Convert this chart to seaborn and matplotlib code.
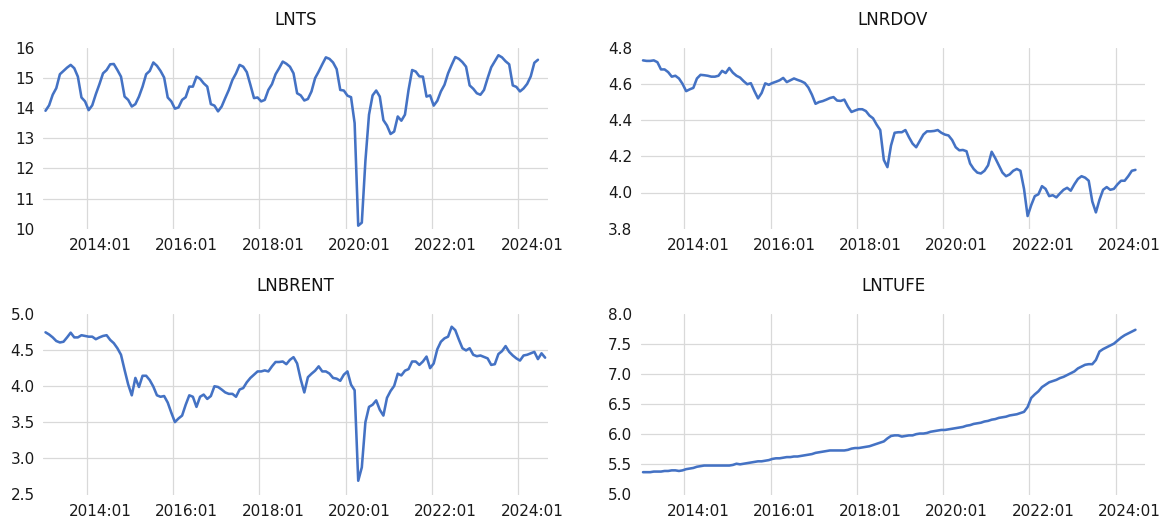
import numpy as np
import pandas as pd
import matplotlib
matplotlib.use("Agg")
import matplotlib.pyplot as plt
import seaborn as sns

# Monthly log series, starting 2013:01
lnts = [
    13.91, 14.09, 14.44, 14.66, 15.12, 15.23, 15.34, 15.43, 15.32, 15.04, 14.35, 14.22,
    13.93, 14.09, 14.46, 14.79, 15.15, 15.26, 15.45, 15.46, 15.26, 15.04, 14.38, 14.27,
    14.05, 14.13, 14.38, 14.71, 15.12, 15.23, 15.51, 15.40, 15.23, 15.01, 14.35, 14.22,
    13.98, 14.02, 14.27, 14.36, 14.71, 14.71, 15.04, 14.97, 14.82, 14.71, 14.13, 14.08,
    13.89, 14.05, 14.33, 14.60, 14.93, 15.15, 15.43, 15.37, 15.19, 14.77, 14.33, 14.35,
    14.22, 14.27, 14.60, 14.79, 15.12, 15.32, 15.54, 15.47, 15.37, 15.15, 14.49, 14.42,
    14.25, 14.30, 14.55, 14.99, 15.21, 15.45, 15.68, 15.63, 15.51, 15.29, 14.60, 14.58,
    14.41, 14.36, 13.50, 10.10, 10.20, 12.25, 13.78, 14.42, 14.58, 14.38, 13.60, 13.42,
    13.14, 13.22, 13.72, 13.58, 13.78, 14.60, 15.26, 15.21, 15.05, 15.04, 14.38, 14.42,
    14.08, 14.24, 14.55, 14.77, 15.15, 15.43, 15.69, 15.63, 15.52, 15.37, 14.75, 14.64,
    14.49, 14.44, 14.60, 14.99, 15.35, 15.55, 15.75, 15.68, 15.55, 15.45, 14.75, 14.70,
    14.55, 14.65, 14.80, 15.05, 15.50, 15.60,
]

lnrdov = [
    4.730, 4.727, 4.727, 4.730, 4.720, 4.680, 4.680, 4.665, 4.640, 4.645, 4.630, 4.600,
    4.560, 4.570, 4.578, 4.630, 4.650, 4.648, 4.645, 4.640, 4.640, 4.645, 4.672, 4.660,
    4.688, 4.662, 4.645, 4.635, 4.615, 4.598, 4.604, 4.560, 4.520, 4.550, 4.603, 4.595,
    4.605, 4.612, 4.620, 4.633, 4.610, 4.620, 4.630, 4.622, 4.615, 4.605, 4.580, 4.540,
    4.490, 4.500, 4.505, 4.513, 4.522, 4.527, 4.508, 4.506, 4.513, 4.475, 4.445, 4.453,
    4.460, 4.460, 4.450, 4.425, 4.410, 4.375, 4.345, 4.180, 4.140, 4.260, 4.330, 4.333,
    4.333, 4.345, 4.305, 4.270, 4.250, 4.285, 4.320, 4.338, 4.338, 4.340, 4.345, 4.330,
    4.320, 4.315, 4.290, 4.250, 4.233, 4.235, 4.228, 4.160, 4.130, 4.110, 4.105, 4.120,
    4.150, 4.225, 4.190, 4.150, 4.110, 4.090, 4.100, 4.120, 4.130, 4.120, 4.020, 3.870,
    3.930, 3.980, 3.990, 4.035, 4.020, 3.980, 3.985, 3.973, 3.995, 4.015, 4.026, 4.010,
    4.045, 4.075, 4.090, 4.082, 4.065, 3.950, 3.890, 3.960, 4.015, 4.030, 4.015, 4.020,
    4.045, 4.065, 4.065, 4.090, 4.120, 4.125,
]

lnbrent = [
    4.740, 4.710, 4.670, 4.620, 4.600, 4.610, 4.670, 4.735, 4.670, 4.670, 4.700, 4.690,
    4.680, 4.680, 4.645, 4.670, 4.690, 4.700, 4.635, 4.590, 4.520, 4.430, 4.220, 4.020,
    3.870, 4.110, 3.985, 4.140, 4.140, 4.080, 3.990, 3.870, 3.850, 3.860, 3.770, 3.630,
    3.500, 3.550, 3.590, 3.740, 3.870, 3.850, 3.710, 3.850, 3.880, 3.820, 3.860, 3.995,
    3.985, 3.950, 3.910, 3.890, 3.890, 3.850, 3.950, 3.970, 4.050, 4.110, 4.155, 4.200,
    4.200, 4.214, 4.200, 4.270, 4.330, 4.330, 4.337, 4.300, 4.360, 4.397, 4.310, 4.090,
    3.910, 4.120, 4.168, 4.210, 4.270, 4.200, 4.200, 4.170, 4.110, 4.100, 4.070, 4.155,
    4.200, 4.017, 3.940, 2.690, 2.875, 3.500, 3.710, 3.740, 3.800, 3.670, 3.590, 3.835,
    3.930, 4.000, 4.168, 4.145, 4.210, 4.232, 4.337, 4.337, 4.290, 4.337, 4.405, 4.245,
    4.310, 4.506, 4.610, 4.657, 4.680, 4.817, 4.770, 4.640, 4.520, 4.490, 4.520, 4.430,
    4.410, 4.420, 4.400, 4.380, 4.290, 4.300, 4.440, 4.480, 4.550, 4.470, 4.420, 4.380,
    4.350, 4.420, 4.430, 4.450, 4.470, 4.370, 4.450, 4.390,
]

lntufe = [
    5.37, 5.37, 5.37, 5.38, 5.38, 5.38, 5.39, 5.39, 5.40, 5.40, 5.39, 5.40,
    5.42, 5.43, 5.44, 5.46, 5.47, 5.48, 5.48, 5.48, 5.48, 5.48, 5.48, 5.48,
    5.48, 5.49, 5.51, 5.50, 5.51, 5.52, 5.53, 5.54, 5.55, 5.55, 5.56, 5.57,
    5.59, 5.60, 5.60, 5.61, 5.62, 5.62, 5.63, 5.63, 5.64, 5.65, 5.66, 5.67,
    5.69, 5.70, 5.71, 5.72, 5.73, 5.73, 5.73, 5.73, 5.73, 5.74, 5.76, 5.77,
    5.77, 5.78, 5.79, 5.80, 5.82, 5.84, 5.86, 5.88, 5.93, 5.97, 5.98, 5.98,
    5.96, 5.97, 5.98, 5.98, 6.00, 6.01, 6.01, 6.02, 6.04, 6.05, 6.06, 6.07,
    6.07, 6.08, 6.09, 6.10, 6.11, 6.12, 6.14, 6.15, 6.17, 6.18, 6.19, 6.21,
    6.22, 6.24, 6.25, 6.27, 6.28, 6.29, 6.31, 6.32, 6.33, 6.35, 6.37, 6.45,
    6.60, 6.66, 6.71, 6.78, 6.82, 6.86, 6.88, 6.90, 6.93, 6.95, 6.98, 7.01,
    7.04, 7.09, 7.12, 7.15, 7.16, 7.16, 7.23, 7.37, 7.41, 7.44, 7.47, 7.50,
    7.55, 7.60, 7.64, 7.67, 7.70, 7.73,
]

series = {"LNTS": lnts, "LNRDOV": lnrdov, "LNBRENT": lnbrent, "LNTUFE": lntufe}

y_ticks = {
    "LNTS": [10, 11, 12, 13, 14, 15, 16],
    "LNRDOV": [3.8, 4.0, 4.2, 4.4, 4.6, 4.8],
    "LNBRENT": [2.5, 3.0, 3.5, 4.0, 4.5, 5.0],
    "LNTUFE": [5.0, 5.5, 6.0, 6.5, 7.0, 7.5, 8.0],
}
y_fmt = {"LNTS": "{:.0f}", "LNRDOV": "{:.1f}", "LNBRENT": "{:.1f}", "LNTUFE": "{:.1f}"}

tick_years = [2014, 2016, 2018, 2020, 2022, 2024]
tick_labels = [f"{y}:01" for y in tick_years]

start = pd.Period("2013-01", freq="M")
frames = []
for name, vals in series.items():
    per = pd.period_range(start, periods=len(vals), freq="M")
    frames.append(pd.DataFrame({
        "series": name,
        "t": [(p - start).n for p in per],
        "value": vals,
    }))
df = pd.concat(frames, ignore_index=True)

sns.set_theme(style="white")
plt.rcParams["font.family"] = ["DejaVu Sans"]

LINE = "#4472C4"
GRID = "#D9D9D9"
TEXT = "#1a1a1a"

W, H = 1174, 522
fig = plt.figure(figsize=(W / 100, H / 100), dpi=100)

def px_axes(x0, y0, w, h):
    return fig.add_axes([x0 / W, 1 - (y0 + h) / H, w / W, h / H])

layout = {
    "LNTS": (43, 47.7),
    "LNRDOV": (640.5, 47.7),
    "LNBRENT": (43, 313.5),
    "LNTUFE": (640.5, 313.5),
}

# gridlines fall between December and January; labels sit just right of them
grid_pos = [(y - 2013) * 12 - 0.5 for y in tick_years]
label_pos = [g + 3.8 for g in grid_pos]

for name, (x0, y0) in layout.items():
    ax = px_axes(x0, y0, 505, 181)
    sns.lineplot(data=df[df["series"] == name], x="t", y="value", ax=ax,
                 color=LINE, linewidth=1.85, solid_joinstyle="round",
                 solid_capstyle="round")
    ticks = y_ticks[name]
    ax.set_xlim(-0.7, 139.8)
    ax.set_ylim(ticks[0], ticks[-1])
    ax.set_yticks(ticks)
    ax.set_yticklabels([y_fmt[name].format(v) for v in ticks])
    ax.set_xticks(grid_pos)
    ax.set_xticklabels([])
    ax.set_xticks(label_pos, minor=True)
    ax.set_xticklabels(tick_labels, minor=True)
    ax.tick_params(axis="x", which="both", length=0, pad=6.5,
                   labelsize=11, labelcolor=TEXT)
    ax.tick_params(axis="y", length=0, pad=6, labelsize=11, labelcolor=TEXT)
    ax.grid(True, axis="x", which="major", color=GRID, linewidth=0.9)
    ax.grid(True, axis="y", which="major", color=GRID, linewidth=0.9)
    ygl = ax.yaxis.get_gridlines()
    ygl[0].set_visible(False)
    ygl[-1].set_visible(False)
    for s in ax.spines.values():
        s.set_visible(False)
    ax.set_xlabel("")
    ax.set_ylabel("")
    ax.set_title(name, fontsize=12, color="#111111", pad=16)

fig.savefig("out.png", dpi=100)
